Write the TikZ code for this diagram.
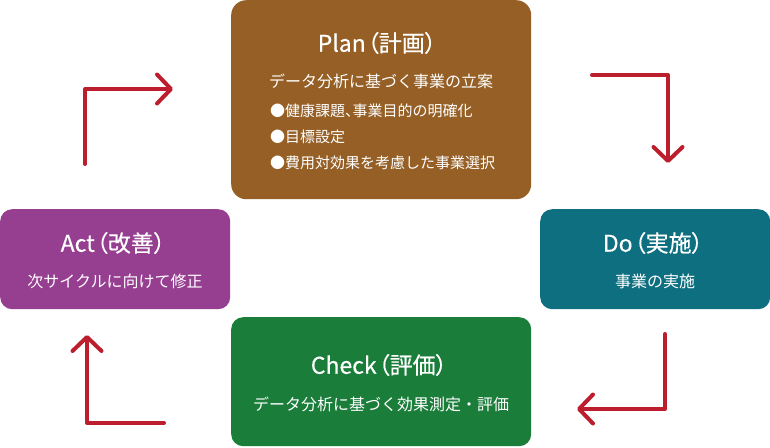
\documentclass[tikz,border=0pt]{standalone}
\usepackage{fontspec}
\setmainfont{Noto Sans CJK JP}
\newfontfamily\ttlfont[RawFeature=+palt, FakeBold=0.35]{Noto Sans CJK JP}
\usetikzlibrary{arrows.meta}
\definecolor{plancol}{HTML}{955F25}
\definecolor{actcol}{HTML}{963F91}
\definecolor{docol}{HTML}{0D6F80}
\definecolor{checkcol}{HTML}{1A7D3A}
\definecolor{arrowred}{HTML}{BD1E2D}
\newcommand{\halfcomma}{\makebox[0.5em][l]{、}}
\newcommand{\pgap}{\kern1.5pt}
\begin{document}
\begin{tikzpicture}[x=1pt,y=-1pt,
  box/.style={rounded corners=12pt, inner sep=0pt, anchor=north west},
  ttl/.style={text=white, inner sep=0pt, font=\ttlfont\fontsize{23}{26}\selectfont},
  sub/.style={text=white, inner sep=0pt, font=\fontsize{16}{19}\selectfont},
  bul/.style={text=white, inner sep=0pt, anchor=west, font=\fontsize{15}{18}\selectfont},
  cyc/.style={draw=arrowred, line width=4pt, line cap=round, line join=round,
    -{Straight Barb[length=14pt,width=29pt,round]}}]
\useasboundingbox (0,0) rectangle (770,447);
% boxes
\node[box, rounded corners=15pt, fill=plancol, minimum width=300pt, minimum height=199pt] (plan) at (231,0) {};
\node[box, fill=actcol, minimum width=230pt, minimum height=100pt] (act) at (0,209) {};
\node[box, fill=docol, minimum width=230pt, minimum height=100pt] (do) at (540,209) {};
\node[box, fill=checkcol, minimum width=300pt, minimum height=129pt] (check) at (231,317) {};
% Plan texts
\node[ttl] (plant) at (377,43) {Plan\pgap（計画）};
\node[sub] (plans) at (381,81) {データ分析に基づく事業の立案};
\node[bul] (planb1) at (270,111) {●健康課題\halfcomma 事業目的の明確化};
\node[bul] (planb2) at (270,137) {●目標設定};
\node[bul] (planb3) at (270,163) {●費用対効果を考慮した事業選択};
% Act texts
\node[ttl] (actt) at (113,243) {Act\pgap（改善）};
\node[sub] (acts) at (115,281) {次サイクルに向けて修正};
% Do texts
\node[ttl] (dot) at (653,243) {Do\pgap（実施）};
\node[sub] (dos) at (655,281) {事業の実施};
% Check texts
\node[ttl] (checkt) at (379,365) {Check\pgap（評価）};
\node[sub] (checks) at (381,404) {データ分析に基づく効果測定・評価};
% arrows
\coordinate (a1s) at (85,164);
\coordinate (a1c) at (85,89);
\coordinate (a1e) at (173,89);
\draw[cyc] (a1s) -- (a1c) -- (a1e);
\coordinate (a2s) at (592,75);
\coordinate (a2c) at (668,75);
\coordinate (a2e) at (668,163);
\draw[cyc] (a2s) -- (a2c) -- (a2e);
\coordinate (a3s) at (665,334);
\coordinate (a3c) at (665,409);
\coordinate (a3e) at (577,409);
\draw[cyc] (a3s) -- (a3c) -- (a3e);
\coordinate (a4s) at (164,423);
\coordinate (a4c) at (87,423);
\coordinate (a4e) at (87,335);
\draw[cyc] (a4s) -- (a4c) -- (a4e);
\end{tikzpicture}
\end{document}
